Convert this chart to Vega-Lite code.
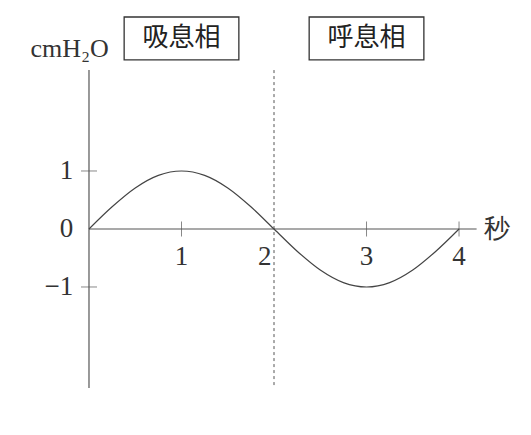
{
  "$schema": "https://vega.github.io/schema/vega-lite/v6.json",
  "width": 531,
  "height": 435,
  "autosize": "none",
  "padding": 0,
  "config": {"view": {"stroke": null}},
  "datasets": {
    "curve": [
      {"t": 0, "p": 0}, {"t": 0.25, "p": 0.3827}, {"t": 0.5, "p": 0.7071}, {"t": 0.75, "p": 0.9239},
      {"t": 1, "p": 1}, {"t": 1.25, "p": 0.9239}, {"t": 1.5, "p": 0.7071}, {"t": 1.75, "p": 0.3827},
      {"t": 2, "p": 0}, {"t": 2.25, "p": -0.3827}, {"t": 2.5, "p": -0.7071}, {"t": 2.75, "p": -0.9239},
      {"t": 3, "p": -1}, {"t": 3.25, "p": -0.9239}, {"t": 3.5, "p": -0.7071}, {"t": 3.75, "p": -0.3827},
      {"t": 4, "p": 0}
    ],
    "axes": [
      {"x": 0, "x2": 0, "y": 2.74, "y2": -2.74},
      {"x": 0, "x2": 4.19, "y": 0, "y2": 0}
    ],
    "xticks": [
      {"t": 1, "label": "1", "lx": 1},
      {"t": 2, "label": "2", "lx": 1.9},
      {"t": 3, "label": "3", "lx": 3},
      {"t": 4, "label": "4", "lx": 4}
    ],
    "yticks": [
      {"p": 1, "label": "1"},
      {"p": 0, "label": "0"},
      {"p": -1, "label": "\u22121"}
    ],
    "phases": [
      {"phase": "吸息相", "start": 0.38, "end": 1.62, "mid": 1},
      {"phase": "呼息相", "start": 2.38, "end": 3.62, "mid": 3}
    ],
    "units": [
      {"text": "cmH\u2082O", "x": -0.21, "y": 3.1},
      {"text": "秒", "x": 4.41, "y": 0}
    ]
  },
  "layer": [
    {
      "data": {"name": "axes"},
      "mark": {"type": "rule", "color": "#555", "strokeWidth": 1.2},
      "encoding": {
        "x": {"field": "x", "type": "quantitative", "scale": {"domain": [-0.962, 4.778], "nice": false, "zero": false}, "axis": null},
        "x2": {"field": "x2"},
        "y": {"field": "y", "type": "quantitative", "scale": {"domain": [-3.552, 3.948], "nice": false, "zero": false}, "axis": null},
        "y2": {"field": "y2"}
      }
    },
    {
      "data": {"values": [{"t": 2, "top": 2.74, "bottom": -2.74}]},
      "mark": {"type": "rule", "color": "#555", "strokeWidth": 1, "strokeDash": [3, 3]},
      "encoding": {
        "x": {"field": "t", "type": "quantitative"},
        "y": {"field": "top", "type": "quantitative"},
        "y2": {"field": "bottom"}
      }
    },
    {
      "data": {"name": "xticks"},
      "transform": [{"filter": "datum.t != 2"}],
      "mark": {"type": "tick", "orient": "vertical", "color": "#555", "thickness": 1, "size": 15},
      "encoding": {
        "x": {"field": "t", "type": "quantitative"},
        "y": {"datum": 0, "type": "quantitative"}
      }
    },
    {
      "data": {"name": "yticks"},
      "transform": [{"filter": "datum.p != 0"}],
      "mark": {"type": "tick", "orient": "horizontal", "color": "#555", "thickness": 1, "size": 16},
      "encoding": {
        "x": {"datum": 0, "type": "quantitative"},
        "y": {"field": "p", "type": "quantitative"}
      }
    },
    {
      "data": {"name": "curve"},
      "mark": {"type": "line", "color": "#444", "strokeWidth": 1.2, "interpolate": "monotone"},
      "encoding": {
        "x": {"field": "t", "type": "quantitative"},
        "y": {"field": "p", "type": "quantitative"}
      }
    },
    {
      "data": {"name": "xticks"},
      "mark": {"type": "text", "font": "Liberation Serif", "fontSize": 27, "color": "#333", "baseline": "middle", "align": "center"},
      "encoding": {
        "x": {"field": "lx", "type": "quantitative"},
        "y": {"datum": -0.48, "type": "quantitative"},
        "text": {"field": "label"}
      }
    },
    {
      "data": {"name": "yticks"},
      "mark": {"type": "text", "font": "Liberation Serif", "fontSize": 27, "color": "#333", "baseline": "middle", "align": "right"},
      "encoding": {
        "x": {"datum": -0.17, "type": "quantitative"},
        "y": {"field": "p", "type": "quantitative"},
        "text": {"field": "label"}
      }
    },
    {
      "data": {"name": "phases"},
      "mark": {"type": "rect", "fill": "white", "stroke": "#333", "strokeWidth": 1.3},
      "encoding": {
        "x": {"field": "start", "type": "quantitative"},
        "x2": {"field": "end"},
        "y": {"datum": 3.655, "type": "quantitative"},
        "y2": {"datum": 2.914}
      }
    },
    {
      "data": {"name": "phases"},
      "mark": {"type": "text", "font": "Noto Sans CJK JP", "fontSize": 26, "color": "#222", "baseline": "middle", "align": "center"},
      "encoding": {
        "x": {"field": "mid", "type": "quantitative"},
        "y": {"datum": 3.29, "type": "quantitative"},
        "text": {"field": "phase"}
      }
    },
    {
      "data": {"name": "units"},
      "mark": {"type": "text", "font": "Liberation Serif", "fontSize": 26, "color": "#333", "baseline": "middle", "align": "center"},
      "encoding": {
        "x": {"field": "x", "type": "quantitative"},
        "y": {"field": "y", "type": "quantitative"},
        "text": {"field": "text"}
      }
    }
  ]
}
